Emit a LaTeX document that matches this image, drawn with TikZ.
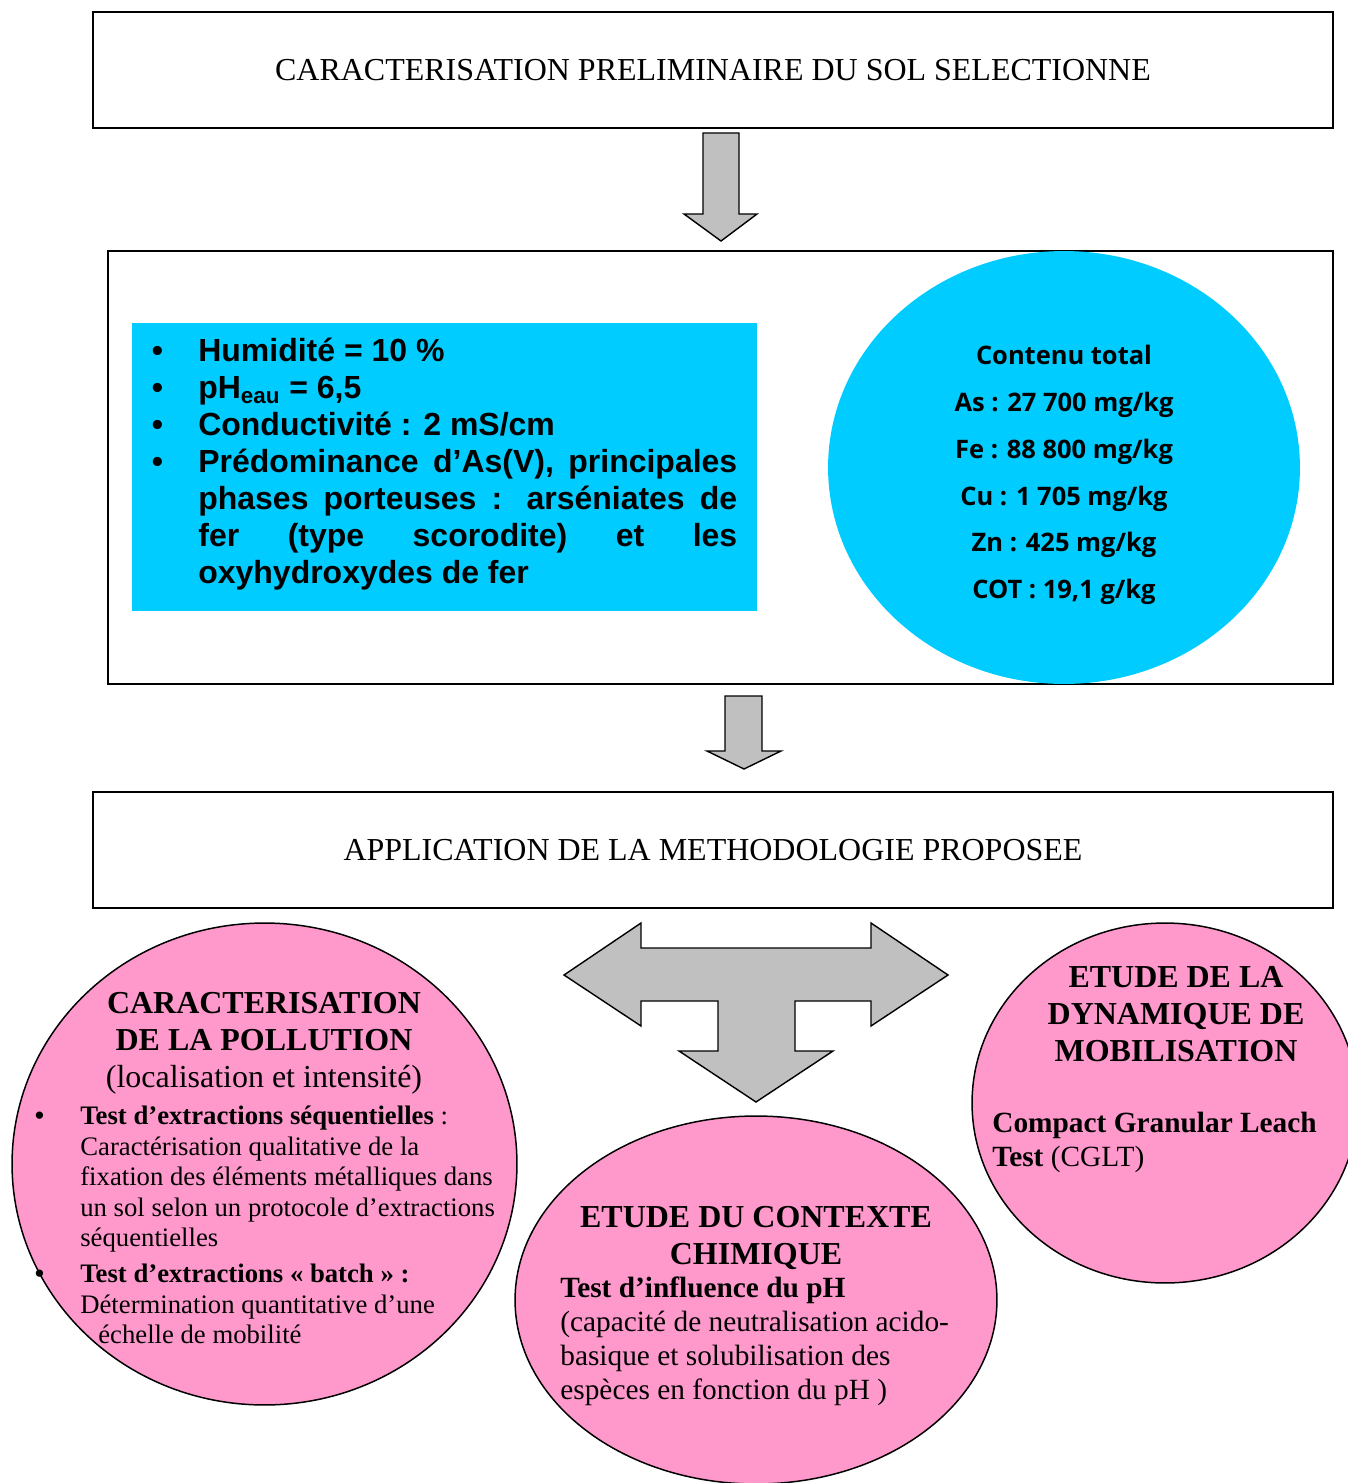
\documentclass[tikz,border=0pt]{standalone}
\usepackage{fontspec}
\setmainfont{Liberation Serif}
\newfontfamily\arialfont{Liberation Sans}
\newfontfamily\comicfont{Open Sans}
\usepackage{xcolor}
\usepackage{tikz}
\usetikzlibrary{shapes.geometric, positioning}

\definecolor{bleuciel}{HTML}{00CCFF}
\definecolor{rose}{HTML}{FF99CC}
\definecolor{grisfleche}{HTML}{C0C0C0}

\newcommand{\grandtexte}{\fontsize{18.2pt}{21pt}\selectfont}
\newcommand{\moyentexte}{\fontsize{16.7pt}{19.3pt}\selectfont}
\newcommand{\petittexte}{\fontsize{15.2pt}{17.4pt}\selectfont}
\newcommand{\puce}[1]{\leavevmode\llap{\makebox[#1][l]{\arialfont\textbullet}}}

\begin{document}
\begin{tikzpicture}[
    x=0.02cm, y=-0.02cm,
    box/.style={rectangle, draw=black, line width=1.1pt, fill=white, minimum width=24.8cm, minimum height=2.32cm, align=center, font=\grandtexte},
    bulle/.style={ellipse, draw=black, line width=0.85pt, fill=rose, inner sep=0pt},
    txt/.style={inner sep=0pt, align=left},
    titre/.style={inner sep=0pt, align=center, font=\grandtexte\bfseries},
    bigarrow/.style={draw=black, line width=0.8pt, fill=grisfleche, line join=miter}
]
\useasboundingbox (0,0) rectangle (1347,1483);

% etape 1
\node[box] (prelim) at (713,70) {CARACTERISATION PRELIMINAIRE DU SOL SELECTIONNE};
\draw[bigarrow] (703,133) -- (739,133) -- (739,214) -- (757,214) -- (721,241) -- (684,214) -- (703,214) -- cycle;

% caracteristiques du sol
\node[rectangle, draw=black, line width=1.1pt, minimum width=24.5cm, minimum height=8.66cm] (sol) at (720.5,467.5) {};
\node[rectangle, fill=bleuciel, minimum width=12.5cm, minimum height=5.76cm] (mesures) at (444.5,467) {};
\node[ellipse, fill=bleuciel, inner sep=0pt, minimum width=9.44cm, minimum height=8.66cm] (contenu) at (1064,467.5) {};

\node[txt, text width=10.78cm, align=justify, anchor=west, font=\arialfont\bfseries\grandtexte] (proprietes) at (198,464)
    {\puce{0.93cm}Humidité = 10 \%\par
     \puce{0.93cm}pH\textsubscript{eau} = 6,5\par
     \puce{0.93cm}Conductivité : 2 mS/cm\par
     \puce{0.93cm}Prédominance d’As(V), principales\linebreak phases porteuses : arséniates de\linebreak fer (type scorodite) et les\linebreak oxyhydroxydes de fer};

\node[inner sep=0pt, align=center, font=\comicfont\bfseries\fontsize{14.5pt}{26.7pt}\selectfont] (valeurs) at (1064,475)
    {Contenu total\\As : 27 700 mg/kg\\Fe : 88 800 mg/kg\\Cu : 1 705 mg/kg\\Zn : 425 mg/kg\\COT : 19,1 g/kg};

\draw[bigarrow] (725,696) -- (762,696) -- (762,751) -- (781,751) -- (744,769) -- (707,751) -- (725,751) -- cycle;

% etape 2
\node[box] (methodo) at (713,850) {APPLICATION DE LA METHODOLOGIE PROPOSEE};

\draw[bigarrow] (564,975) -- (641,923) -- (641,948) -- (871,948) -- (871,923) -- (948,975) -- (871,1026)
    -- (871,1001) -- (795,1001) -- (795,1051) -- (833,1051) -- (756,1102) -- (679,1051) -- (718,1051)
    -- (718,1001) -- (641,1001) -- (641,1026) -- cycle;

% les trois volets
\node[bulle, minimum width=10.1cm, minimum height=9.64cm] (pollution) at (264.5,1164) {};
\node[bulle, minimum width=9.64cm, minimum height=7.36cm] (chimie) at (756,1300) {};
\node[bulle, minimum width=7.72cm, minimum height=7.2cm] (dynamique) at (1165,1103) {};

\node[titre] (pollutiontitre) at (264,1043) {CARACTERISATION\\DE LA POLLUTION\\\mdseries(localisation et intensité)};
\node[txt, anchor=west, font=\petittexte] (pollutiontests) at (80,1225)
    {\puce{0.91cm}\textbf{Test d’extractions séquentielles} :\\
     Caractérisation qualitative de la\\
     fixation des éléments métalliques dans\\
     un sol selon un protocole d’extractions\\
     séquentielles\\[0.1cm]
     \puce{0.91cm}\textbf{Test d’extractions « batch » :}\\
     Détermination quantitative d’une\\
     \hspace*{0.36cm}échelle de mobilité};

\node[titre] (chimietitre) at (756,1238) {ETUDE DU CONTEXTE\\CHIMIQUE};
\node[txt, anchor=west, font=\moyentexte] (chimietest) at (560,1341.5)
    {\textbf{Test d’influence du pH}\\
     (capacité de neutralisation acido-\\
     basique et solubilisation des\\
     espèces en fonction du pH )};

\node[titre] (dynamiquetitre) at (1176,1014) {ETUDE DE LA\\DYNAMIQUE DE\\MOBILISATION};
\node[txt, anchor=west, font=\moyentexte\bfseries] (dynamiquetest) at (992,1142.5)
    {Compact Granular Leach\\Test \mdseries(CGLT)};

\end{tikzpicture}
\end{document}
